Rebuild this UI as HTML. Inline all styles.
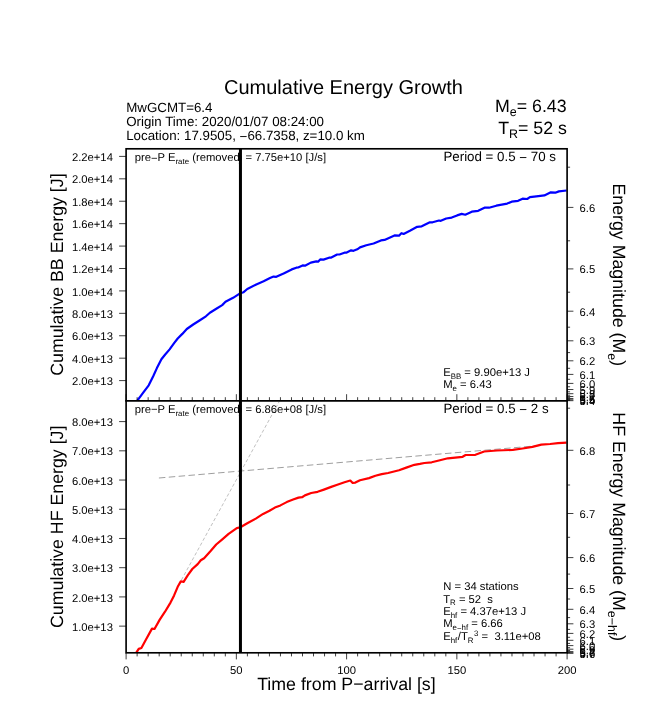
<!DOCTYPE html>
<html><head><meta charset="utf-8"><title>Cumulative Energy Growth</title>
<style>
html,body{margin:0;padding:0;background:#fff;}
body{width:661px;height:716px;position:relative;overflow:hidden;font-family:"Liberation Sans",sans-serif;}
</style></head><body>
<svg width="661" height="716" viewBox="0 0 661 716" style="position:absolute;left:0;top:0;will-change:transform;transform:translateZ(0);text-rendering:geometricPrecision">
<rect x="0" y="0" width="661" height="716" fill="#fff"/>
<g font-family="'Liberation Sans', sans-serif" fill="#000">
<g stroke="#000" fill="none">
<line x1="158.9" y1="478.0" x2="540" y2="445.5" stroke-width="0.55" stroke-opacity="0.7" stroke-dasharray="6.5 3.4"/>
<line x1="181.4" y1="580.0" x2="279.3" y2="401.4" stroke-width="0.32" stroke-opacity="0.8" stroke-dasharray="3.4 2.2"/>
</g>
<polyline points="137.3,400.6 143.2,392.6 148.7,385.3 153.2,376.2 156.9,368.1 161.4,359.3 165.0,354.8 169.6,349.4 174.1,343.2 177.7,338.5 182.3,333.9 186.8,329.0 193.2,324.5 199.5,320.5 205.9,316.3 209.9,312.7 215.9,309.0 222.2,305.1 225.5,301.8 233.1,297.8 240.4,293.1 243.6,292.2 247.3,289.0 256.3,284.4 263.6,281.3 270.0,278.1 273.6,276.6 276.3,276.8 283.6,273.5 291.7,269.4 296.3,267.7 298.1,267.5 302.6,265.4 305.0,265.7 310.8,262.6 316.3,261.4 318.1,261.7 320.2,259.4 323.5,259.6 329.0,257.7 330.8,257.7 337.1,254.5 339.5,254.5 344.4,252.7 346.2,252.7 351.1,250.3 353.5,250.8 357.3,249.3 360.0,247.4 366.3,245.3 373.6,243.5 380.9,240.4 384.5,239.9 394.5,235.4 399.0,235.7 401.4,233.2 403.6,233.9 409.9,230.8 417.2,226.8 421.7,226.3 429.9,222.3 432.6,222.3 439.0,220.5 440.8,220.8 446.2,218.5 451.7,217.6 457.1,215.4 461.7,213.9 465.3,214.7 471.8,211.7 478.2,210.8 484.5,207.7 489.0,207.7 496.3,205.7 507.2,203.6 511.7,201.7 518.1,200.8 522.6,198.7 527.2,199.0 529.9,197.2 536.3,196.3 544.4,195.4 550.8,192.3 555.3,192.7 558.9,191.4 566.6,190.5" fill="none" stroke="#0000ff" stroke-width="2.2" stroke-linejoin="round" stroke-linecap="butt"/>
<polyline points="136.3,652.6 138.7,648.9 141.4,648.0 146.0,639.5 152.0,628.6 154.5,629.0 159.6,619.9 165.0,611.7 170.5,602.6 174.1,595.4 177.7,586.8 180.8,581.4 183.6,581.8 187.7,575.4 192.3,569.0 197.7,564.1 200.8,560.3 204.1,558.2 210.4,551.3 216.2,544.5 222.3,539.3 228.6,533.9 236.8,528.1 240.4,527.2 247.7,523.0 255.8,518.6 263.1,513.9 269.5,510.8 274.9,507.6 280.4,505.4 286.7,502.1 293.1,499.6 298.5,497.6 302.1,497.2 304.9,495.4 311.2,493.0 317.6,491.8 323.9,489.6 331.2,486.9 337.3,484.8 344.5,482.3 350.3,480.5 352.7,483.0 355.4,482.6 360.0,480.3 369.0,478.1 375.4,475.7 381.7,474.1 388.1,473.0 399.0,470.3 406.3,467.6 414.4,464.8 419.9,463.9 424.4,463.0 431.7,462.3 438.9,460.5 447.9,458.3 462.6,456.8 465.6,455.0 475.4,454.8 484.2,451.5 497.0,450.5 512.8,449.9 522.6,448.5 532.4,446.9 541.3,444.6 550.1,444.0 558.0,443.2 566.6,442.6" fill="none" stroke="#ff0000" stroke-width="2.2" stroke-linejoin="round" stroke-linecap="butt"/>
<g stroke="#000" stroke-width="0.75" fill="none">
<line x1="119.10" y1="156.40" x2="126.10" y2="156.40"/>
<line x1="119.10" y1="178.82" x2="126.10" y2="178.82"/>
<line x1="119.10" y1="201.24" x2="126.10" y2="201.24"/>
<line x1="119.10" y1="223.66" x2="126.10" y2="223.66"/>
<line x1="119.10" y1="246.08" x2="126.10" y2="246.08"/>
<line x1="119.10" y1="268.50" x2="126.10" y2="268.50"/>
<line x1="119.10" y1="290.92" x2="126.10" y2="290.92"/>
<line x1="119.10" y1="313.34" x2="126.10" y2="313.34"/>
<line x1="119.10" y1="335.76" x2="126.10" y2="335.76"/>
<line x1="119.10" y1="358.18" x2="126.10" y2="358.18"/>
<line x1="119.10" y1="380.60" x2="126.10" y2="380.60"/>
<line x1="119.10" y1="421.60" x2="126.10" y2="421.60"/>
<line x1="119.10" y1="450.82" x2="126.10" y2="450.82"/>
<line x1="119.10" y1="480.04" x2="126.10" y2="480.04"/>
<line x1="119.10" y1="509.26" x2="126.10" y2="509.26"/>
<line x1="119.10" y1="538.48" x2="126.10" y2="538.48"/>
<line x1="119.10" y1="567.70" x2="126.10" y2="567.70"/>
<line x1="119.10" y1="596.92" x2="126.10" y2="596.92"/>
<line x1="119.10" y1="626.14" x2="126.10" y2="626.14"/>
<line x1="126.10" y1="652.80" x2="126.10" y2="659.40"/>
<line x1="126.10" y1="400.80" x2="126.10" y2="394.20"/>
<line x1="137.12" y1="652.80" x2="137.12" y2="656.40"/>
<line x1="137.12" y1="400.80" x2="137.12" y2="397.20"/>
<line x1="148.15" y1="652.80" x2="148.15" y2="656.40"/>
<line x1="148.15" y1="400.80" x2="148.15" y2="397.20"/>
<line x1="159.18" y1="652.80" x2="159.18" y2="656.40"/>
<line x1="159.18" y1="400.80" x2="159.18" y2="397.20"/>
<line x1="170.20" y1="652.80" x2="170.20" y2="656.40"/>
<line x1="170.20" y1="400.80" x2="170.20" y2="397.20"/>
<line x1="181.22" y1="652.80" x2="181.22" y2="656.40"/>
<line x1="181.22" y1="400.80" x2="181.22" y2="397.20"/>
<line x1="192.25" y1="652.80" x2="192.25" y2="656.40"/>
<line x1="192.25" y1="400.80" x2="192.25" y2="397.20"/>
<line x1="203.27" y1="652.80" x2="203.27" y2="656.40"/>
<line x1="203.27" y1="400.80" x2="203.27" y2="397.20"/>
<line x1="214.30" y1="652.80" x2="214.30" y2="656.40"/>
<line x1="214.30" y1="400.80" x2="214.30" y2="397.20"/>
<line x1="225.32" y1="652.80" x2="225.32" y2="656.40"/>
<line x1="225.32" y1="400.80" x2="225.32" y2="397.20"/>
<line x1="236.35" y1="652.80" x2="236.35" y2="659.40"/>
<line x1="236.35" y1="400.80" x2="236.35" y2="394.20"/>
<line x1="247.38" y1="652.80" x2="247.38" y2="656.40"/>
<line x1="247.38" y1="400.80" x2="247.38" y2="397.20"/>
<line x1="258.40" y1="652.80" x2="258.40" y2="656.40"/>
<line x1="258.40" y1="400.80" x2="258.40" y2="397.20"/>
<line x1="269.43" y1="652.80" x2="269.43" y2="656.40"/>
<line x1="269.43" y1="400.80" x2="269.43" y2="397.20"/>
<line x1="280.45" y1="652.80" x2="280.45" y2="656.40"/>
<line x1="280.45" y1="400.80" x2="280.45" y2="397.20"/>
<line x1="291.48" y1="652.80" x2="291.48" y2="656.40"/>
<line x1="291.48" y1="400.80" x2="291.48" y2="397.20"/>
<line x1="302.50" y1="652.80" x2="302.50" y2="656.40"/>
<line x1="302.50" y1="400.80" x2="302.50" y2="397.20"/>
<line x1="313.52" y1="652.80" x2="313.52" y2="656.40"/>
<line x1="313.52" y1="400.80" x2="313.52" y2="397.20"/>
<line x1="324.55" y1="652.80" x2="324.55" y2="656.40"/>
<line x1="324.55" y1="400.80" x2="324.55" y2="397.20"/>
<line x1="335.57" y1="652.80" x2="335.57" y2="656.40"/>
<line x1="335.57" y1="400.80" x2="335.57" y2="397.20"/>
<line x1="346.60" y1="652.80" x2="346.60" y2="659.40"/>
<line x1="346.60" y1="400.80" x2="346.60" y2="394.20"/>
<line x1="357.62" y1="652.80" x2="357.62" y2="656.40"/>
<line x1="357.62" y1="400.80" x2="357.62" y2="397.20"/>
<line x1="368.65" y1="652.80" x2="368.65" y2="656.40"/>
<line x1="368.65" y1="400.80" x2="368.65" y2="397.20"/>
<line x1="379.68" y1="652.80" x2="379.68" y2="656.40"/>
<line x1="379.68" y1="400.80" x2="379.68" y2="397.20"/>
<line x1="390.70" y1="652.80" x2="390.70" y2="656.40"/>
<line x1="390.70" y1="400.80" x2="390.70" y2="397.20"/>
<line x1="401.73" y1="652.80" x2="401.73" y2="656.40"/>
<line x1="401.73" y1="400.80" x2="401.73" y2="397.20"/>
<line x1="412.75" y1="652.80" x2="412.75" y2="656.40"/>
<line x1="412.75" y1="400.80" x2="412.75" y2="397.20"/>
<line x1="423.77" y1="652.80" x2="423.77" y2="656.40"/>
<line x1="423.77" y1="400.80" x2="423.77" y2="397.20"/>
<line x1="434.80" y1="652.80" x2="434.80" y2="656.40"/>
<line x1="434.80" y1="400.80" x2="434.80" y2="397.20"/>
<line x1="445.83" y1="652.80" x2="445.83" y2="656.40"/>
<line x1="445.83" y1="400.80" x2="445.83" y2="397.20"/>
<line x1="456.85" y1="652.80" x2="456.85" y2="659.40"/>
<line x1="456.85" y1="400.80" x2="456.85" y2="394.20"/>
<line x1="467.88" y1="652.80" x2="467.88" y2="656.40"/>
<line x1="467.88" y1="400.80" x2="467.88" y2="397.20"/>
<line x1="478.90" y1="652.80" x2="478.90" y2="656.40"/>
<line x1="478.90" y1="400.80" x2="478.90" y2="397.20"/>
<line x1="489.92" y1="652.80" x2="489.92" y2="656.40"/>
<line x1="489.92" y1="400.80" x2="489.92" y2="397.20"/>
<line x1="500.95" y1="652.80" x2="500.95" y2="656.40"/>
<line x1="500.95" y1="400.80" x2="500.95" y2="397.20"/>
<line x1="511.98" y1="652.80" x2="511.98" y2="656.40"/>
<line x1="511.98" y1="400.80" x2="511.98" y2="397.20"/>
<line x1="523.00" y1="652.80" x2="523.00" y2="656.40"/>
<line x1="523.00" y1="400.80" x2="523.00" y2="397.20"/>
<line x1="534.02" y1="652.80" x2="534.02" y2="656.40"/>
<line x1="534.02" y1="400.80" x2="534.02" y2="397.20"/>
<line x1="545.05" y1="652.80" x2="545.05" y2="656.40"/>
<line x1="545.05" y1="400.80" x2="545.05" y2="397.20"/>
<line x1="556.08" y1="652.80" x2="556.08" y2="656.40"/>
<line x1="556.08" y1="400.80" x2="556.08" y2="397.20"/>
<line x1="567.10" y1="652.80" x2="567.10" y2="659.40"/>
<line x1="567.10" y1="400.80" x2="567.10" y2="394.20"/>
</g>
<g stroke="#000" stroke-width="0.75" fill="none">
<line x1="567.10" y1="207.40" x2="573.40" y2="207.40"/>
<line x1="567.10" y1="268.90" x2="573.40" y2="268.90"/>
<line x1="567.10" y1="311.20" x2="573.40" y2="311.20"/>
<line x1="567.10" y1="340.80" x2="573.40" y2="340.80"/>
<line x1="567.10" y1="360.80" x2="573.40" y2="360.80"/>
<line x1="567.10" y1="374.40" x2="573.40" y2="374.40"/>
<line x1="567.10" y1="383.40" x2="573.40" y2="383.40"/>
<line x1="567.10" y1="389.52" x2="573.40" y2="389.52"/>
<line x1="567.10" y1="393.69" x2="573.40" y2="393.69"/>
<line x1="567.10" y1="396.53" x2="573.40" y2="396.53"/>
<line x1="567.10" y1="398.47" x2="573.40" y2="398.47"/>
<line x1="567.10" y1="399.78" x2="573.40" y2="399.78"/>
<line x1="567.10" y1="400.68" x2="573.40" y2="400.68"/>
<line x1="567.10" y1="450.30" x2="573.40" y2="450.30"/>
<line x1="567.10" y1="513.50" x2="573.40" y2="513.50"/>
<line x1="567.10" y1="557.60" x2="573.40" y2="557.60"/>
<line x1="567.10" y1="588.50" x2="573.40" y2="588.50"/>
<line x1="567.10" y1="609.30" x2="573.40" y2="609.30"/>
<line x1="567.10" y1="623.80" x2="573.40" y2="623.80"/>
<line x1="567.10" y1="633.40" x2="573.40" y2="633.40"/>
<line x1="567.10" y1="640.30" x2="573.40" y2="640.30"/>
<line x1="567.10" y1="645.60" x2="573.40" y2="645.60"/>
<line x1="567.10" y1="649.20" x2="573.40" y2="649.20"/>
<line x1="567.10" y1="651.60" x2="573.40" y2="651.60"/>
<line x1="567.10" y1="652.70" x2="573.40" y2="652.70"/>
<line x1="567.10" y1="653.30" x2="573.40" y2="653.30"/>
<line x1="567.10" y1="167.20" x2="570.10" y2="167.20"/>
<line x1="567.10" y1="240.80" x2="570.10" y2="240.80"/>
<line x1="567.10" y1="292.20" x2="570.10" y2="292.20"/>
<line x1="567.10" y1="327.20" x2="570.10" y2="327.20"/>
<line x1="567.10" y1="352.60" x2="570.10" y2="352.60"/>
<line x1="567.10" y1="368.30" x2="570.10" y2="368.30"/>
<line x1="567.10" y1="379.30" x2="570.10" y2="379.30"/>
<line x1="567.10" y1="386.75" x2="570.10" y2="386.75"/>
<line x1="567.10" y1="391.81" x2="570.10" y2="391.81"/>
<line x1="567.10" y1="395.25" x2="570.10" y2="395.25"/>
<line x1="567.10" y1="397.59" x2="570.10" y2="397.59"/>
<line x1="567.10" y1="399.19" x2="570.10" y2="399.19"/>
<line x1="567.10" y1="400.28" x2="570.10" y2="400.28"/>
<line x1="567.10" y1="408.20" x2="570.10" y2="408.20"/>
<line x1="567.10" y1="485.00" x2="570.10" y2="485.00"/>
<line x1="567.10" y1="537.30" x2="570.10" y2="537.30"/>
<line x1="567.10" y1="574.10" x2="570.10" y2="574.10"/>
<line x1="567.10" y1="599.00" x2="570.10" y2="599.00"/>
<line x1="567.10" y1="617.60" x2="570.10" y2="617.60"/>
<line x1="567.10" y1="629.40" x2="570.10" y2="629.40"/>
<line x1="567.10" y1="637.30" x2="570.10" y2="637.30"/>
<line x1="567.10" y1="643.40" x2="570.10" y2="643.40"/>
<line x1="567.10" y1="647.70" x2="570.10" y2="647.70"/>
<line x1="567.10" y1="650.50" x2="570.10" y2="650.50"/>
<line x1="567.10" y1="652.20" x2="570.10" y2="652.20"/>
</g>
<g font-size="11.25">
<text x="579.6" y="211.80">6.6</text>
<text x="579.6" y="273.30">6.5</text>
<text x="579.6" y="315.60">6.4</text>
<text x="579.6" y="345.20">6.3</text>
<text x="579.6" y="365.20">6.2</text>
<text x="579.6" y="378.80">6.1</text>
<text x="579.6" y="387.80">6.0</text>
<text x="579.6" y="393.92">5.9</text>
<text x="579.6" y="398.09">5.8</text>
<text x="579.6" y="400.93">5.7</text>
<text x="579.6" y="402.87">5.6</text>
<text x="579.6" y="404.18">5.5</text>
<text x="579.6" y="405.08">5.4</text>
<text x="579.6" y="454.70">6.8</text>
<text x="579.6" y="517.90">6.7</text>
<text x="579.6" y="562.00">6.6</text>
<text x="579.6" y="592.90">6.5</text>
<text x="579.6" y="613.70">6.4</text>
<text x="579.6" y="628.20">6.3</text>
<text x="579.6" y="637.80">6.2</text>
<text x="579.6" y="644.70">6.1</text>
<text x="579.6" y="650.00">6.0</text>
<text x="579.6" y="653.60">5.9</text>
<text x="579.6" y="656.00">5.8</text>
<text x="579.6" y="657.10">5.7</text>
<text x="579.6" y="657.70">5.6</text>
<text x="112.9" y="161.00" text-anchor="end">2.2e+14</text>
<text x="112.9" y="183.42" text-anchor="end">2.0e+14</text>
<text x="112.9" y="205.84" text-anchor="end">1.8e+14</text>
<text x="112.9" y="228.26" text-anchor="end">1.6e+14</text>
<text x="112.9" y="250.68" text-anchor="end">1.4e+14</text>
<text x="112.9" y="273.10" text-anchor="end">1.2e+14</text>
<text x="112.9" y="295.52" text-anchor="end">1.0e+14</text>
<text x="112.9" y="317.94" text-anchor="end">8.0e+13</text>
<text x="112.9" y="340.36" text-anchor="end">6.0e+13</text>
<text x="112.9" y="362.78" text-anchor="end">4.0e+13</text>
<text x="112.9" y="385.20" text-anchor="end">2.0e+13</text>
<text x="112.9" y="426.20" text-anchor="end">8.0e+13</text>
<text x="112.9" y="455.42" text-anchor="end">7.0e+13</text>
<text x="112.9" y="484.64" text-anchor="end">6.0e+13</text>
<text x="112.9" y="513.86" text-anchor="end">5.0e+13</text>
<text x="112.9" y="543.08" text-anchor="end">4.0e+13</text>
<text x="112.9" y="572.30" text-anchor="end">3.0e+13</text>
<text x="112.9" y="601.52" text-anchor="end">2.0e+13</text>
<text x="112.9" y="630.74" text-anchor="end">1.0e+13</text>
<text x="126.10" y="674.2" text-anchor="middle">0</text>
<text x="236.35" y="674.2" text-anchor="middle">50</text>
<text x="346.60" y="674.2" text-anchor="middle">100</text>
<text x="456.85" y="674.2" text-anchor="middle">150</text>
<text x="567.10" y="674.2" text-anchor="middle">200</text>
</g>
<g stroke="#000" stroke-width="1.65" fill="none" stroke-linecap="square">
<rect x="126.10" y="148.80" width="441.00" height="504.00"/>
<line x1="126.10" y1="400.80" x2="567.10" y2="400.80"/>
</g>
<text x="343.50" y="94.20" font-size="20.00" text-anchor="middle" xml:space="preserve"><tspan>Cumulative Energy Growth</tspan></text>
<text x="126.20" y="111.90" font-size="13.33" xml:space="preserve"><tspan>MwGCMT=6.4</tspan></text>
<text x="126.20" y="126.00" font-size="13.33" xml:space="preserve"><tspan>Origin Time: 2020/01/07 08:24:00</tspan></text>
<text x="126.20" y="140.30" font-size="13.33" xml:space="preserve"><tspan>Location: 17.9505, </tspan><tspan dy="0.67">−</tspan><tspan dy="-0.67">66.7358, z=10.0 km</tspan></text>
<text x="443.40" y="161.30" font-size="13.33" xml:space="preserve"><tspan>Period = 0.5 </tspan><tspan dy="0.67">−</tspan><tspan dy="-0.67"> 70 s</tspan></text>
<text x="443.40" y="413.30" font-size="13.33" xml:space="preserve"><tspan>Period = 0.5 </tspan><tspan dy="0.67">−</tspan><tspan dy="-0.67"> 2 s</tspan></text>
<text x="566.60" y="111.70" font-size="17.78" text-anchor="end" xml:space="preserve"><tspan>M</tspan><tspan font-size="12.45" dy="4.45">e</tspan><tspan dy="-4.45">= 6.43</tspan></text>
<text x="566.90" y="133.50" font-size="17.78" text-anchor="end" xml:space="preserve"><tspan>T</tspan><tspan font-size="12.45" dy="4.45">R</tspan><tspan dy="-4.45">= 52 s</tspan></text>
<text x="134.70" y="161.30" font-size="11.25" xml:space="preserve"><tspan>pre</tspan><tspan dy="0.56">−</tspan><tspan dy="-0.56">P E</tspan><tspan font-size="7.87" dy="2.81">rate</tspan><tspan dy="-2.81"> (removed</tspan><tspan dx="-1.12">) = 7.75e+10 [J/s]</tspan></text>
<text x="134.70" y="412.90" font-size="11.25" xml:space="preserve"><tspan>pre</tspan><tspan dy="0.56">−</tspan><tspan dy="-0.56">P E</tspan><tspan font-size="7.87" dy="2.81">rate</tspan><tspan dy="-2.81"> (removed</tspan><tspan dx="-1.12">) = 6.86e+08 [J/s]</tspan></text>
<text x="443.20" y="375.80" font-size="11.25" xml:space="preserve"><tspan>E</tspan><tspan font-size="7.87" dy="2.81">BB</tspan><tspan dy="-2.81"> = 9.90e+13 J</tspan></text>
<text x="443.20" y="387.90" font-size="11.25" xml:space="preserve"><tspan>M</tspan><tspan font-size="7.87" dy="2.81">e</tspan><tspan dy="-2.81"> = 6.43</tspan></text>
<text x="443.20" y="590.00" font-size="11.25" xml:space="preserve"><tspan>N = 34 stations</tspan></text>
<text x="443.20" y="602.50" font-size="11.25" xml:space="preserve"><tspan>T</tspan><tspan font-size="7.87" dy="2.81">R</tspan><tspan dy="-2.81"> = 52  s</tspan></text>
<text x="443.20" y="614.90" font-size="11.25" xml:space="preserve"><tspan>E</tspan><tspan font-size="7.87" dy="2.81">hf</tspan><tspan dy="-2.81"> = 4.37e+13 J</tspan></text>
<text x="443.20" y="627.40" font-size="11.25" xml:space="preserve"><tspan>M</tspan><tspan font-size="7.87" dy="2.81">e</tspan><tspan font-size="7.87" dy="0.39">−</tspan><tspan font-size="7.87" dy="-0.39">hf</tspan><tspan dy="-2.81"> = 6.66</tspan></text>
<text x="443.20" y="639.90" font-size="11.25" xml:space="preserve"><tspan>E</tspan><tspan font-size="7.87" dy="2.81">hf</tspan><tspan dy="-2.81" dx="0.56">/T</tspan><tspan font-size="7.87" dy="2.81">R</tspan><tspan font-size="7.87" dy="-6.75" dx="0.56">3</tspan><tspan dy="3.94"> =  3.11e+08</tspan></text>
<text x="346.40" y="689.50" font-size="17.78" text-anchor="middle" xml:space="preserve"><tspan>Time from P</tspan><tspan dy="0.89">−</tspan><tspan dy="-0.89">arrival [s]</tspan></text>
<text transform="translate(62.50,274.60) rotate(-90)" font-size="17.78" text-anchor="middle" xml:space="preserve"><tspan>Cumulative BB Energy [J]</tspan></text>
<text transform="translate(62.50,526.80) rotate(-90)" font-size="17.78" text-anchor="middle" xml:space="preserve"><tspan>Cumulative HF Energy [J]</tspan></text>
<text transform="translate(612.60,274.80) rotate(90)" font-size="17.78" text-anchor="middle" xml:space="preserve"><tspan>Energy Magnitude (M</tspan><tspan font-size="12.45" dy="4.45">e</tspan><tspan dy="-4.45">)</tspan></text>
<text transform="translate(612.60,526.80) rotate(90)" font-size="17.78" text-anchor="middle" xml:space="preserve"><tspan>HF Energy Magnitude (M</tspan><tspan font-size="12.45" dy="4.45">e</tspan><tspan font-size="12.45" dy="0.62">−</tspan><tspan font-size="12.45" dy="-0.62">hf</tspan><tspan dy="-4.45">)</tspan></text>
<line x1="240.45" y1="148.80" x2="240.45" y2="652.80" stroke="#000" stroke-width="3"/>
</g></svg>
</body></html>
